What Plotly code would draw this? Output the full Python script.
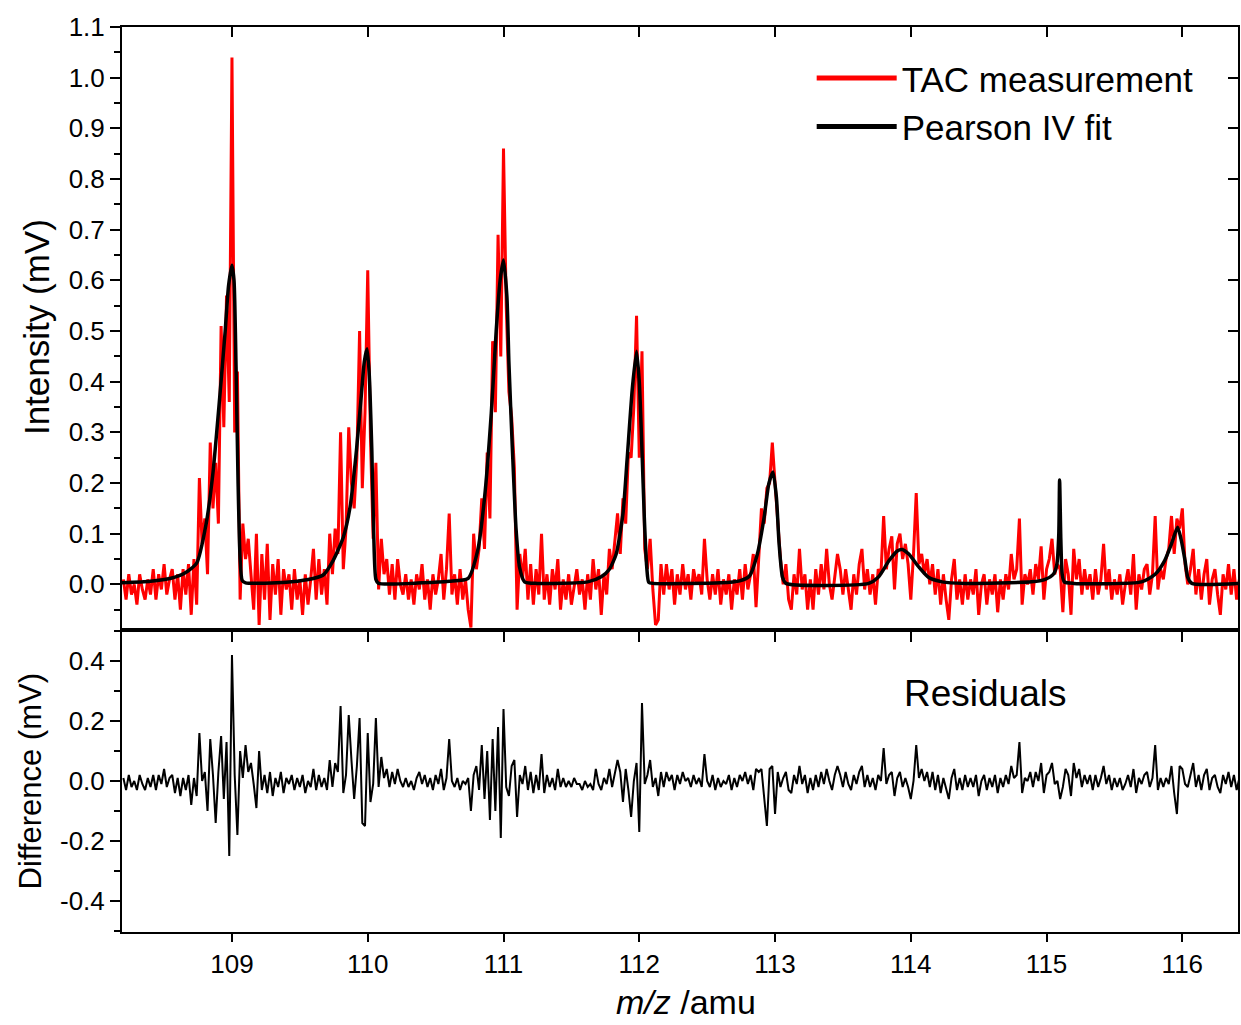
import numpy as np
import plotly.graph_objects as go

# ---------------- data ----------------
mz_start = 108.20
mz_step = 0.02

tac_108 = [0.01, -0.03, 0.02, -0.02, 0.00, -0.04, 0.02, -0.01, -0.03, 0.01,
           -0.02, 0.03, -0.03, 0.02, -0.01, 0.04, -0.02, 0.01, 0.03, -0.03,
           0.02, -0.05, 0.03, -0.02, 0.04, -0.06, 0.05, -0.04, 0.21, 0.08,
           0.13, 0.02, 0.28, 0.15, 0.24, 0.12, 0.51, 0.31, 0.57, 0.36]
tac_109 = [1.04, 0.30, 0.42, -0.03, 0.12, 0.05, 0.09, 0.02, -0.05, 0.10,
           -0.08, 0.06, -0.03, 0.08, -0.07, 0.04, -0.02, 0.05, -0.06, 0.03,
           -0.01, 0.02, -0.05, 0.03, -0.03, 0.01, -0.06, 0.02, -0.04, 0.01,
           0.07, -0.03, 0.05, -0.02, 0.03, -0.04, 0.10, 0.02, 0.11, 0.06,
           0.30, 0.03, 0.11, 0.31, 0.20, 0.15, 0.25, 0.50, 0.19, 0.34]
tac_110 = [0.62, 0.29, 0.09, 0.24, -0.01, 0.09, 0.02, 0.05, -0.02, 0.04,
           -0.03, 0.05, 0.00, -0.02, 0.02, -0.03, 0.01, -0.04, 0.02, -0.01,
           0.04, -0.03, 0.01, -0.05, 0.02, -0.02, 0.01, 0.06, -0.03, 0.03,
           0.14, -0.02, 0.02, -0.04, 0.03, -0.03, 0.01, -0.05, -0.085, 0.10,
           0.03, 0.07, 0.17, 0.07, 0.26, 0.13, 0.48, 0.34, 0.69, 0.45]
tac_111 = [0.86, 0.55, 0.38, 0.33, 0.23, -0.05, 0.06, 0.01, 0.07, -0.03,
           0.04, -0.04, 0.03, -0.02, 0.10, -0.03, 0.02, -0.04, 0.03, -0.01,
           0.05, -0.05, 0.01, -0.03, 0.02, -0.04, 0.00, 0.03, -0.02, 0.01,
           -0.05, 0.02, -0.03, 0.05, -0.01, 0.03, -0.06, 0.02, -0.02, 0.07,
           0.03, 0.08, 0.14, 0.06, 0.17, 0.12, 0.26, 0.25, 0.35, 0.53]
tac_112 = [0.25, 0.46, 0.07, 0.03, 0.09, -0.01, -0.08, -0.07, 0.04, -0.02,
           0.04, -0.01, 0.03, -0.04, 0.02, -0.02, 0.04, -0.01, 0.02, -0.03,
           0.03, 0.00, 0.02, -0.02, 0.09, 0.01, -0.03, 0.02, -0.02, 0.03,
           -0.04, 0.01, -0.02, 0.02, -0.05, 0.01, -0.02, 0.03, -0.03, 0.04,
           -0.01, 0.02, 0.06, -0.045, 0.05, 0.15, 0.12, 0.19, 0.20, 0.28]
tac_113 = [0.20, 0.12, 0.05, 0.00, 0.04, -0.03, -0.05, 0.02, -0.02, 0.07,
           -0.01, 0.02, -0.05, 0.01, -0.05, 0.03, -0.02, 0.04, -0.01, 0.07,
           0.00, -0.03, 0.02, 0.06, 0.03, -0.02, 0.03, -0.01, -0.05, 0.02,
           -0.02, 0.04, 0.07, -0.01, 0.03, -0.02, 0.02, -0.04, 0.03, 0.02,
           0.135, 0.03, 0.07, 0.095, -0.01, 0.08, 0.10, 0.05, 0.08, 0.04]
tac_114 = [-0.03, 0.06, 0.18, 0.04, 0.06, 0.02, 0.05, 0.00, 0.04, -0.02,
           0.03, -0.04, 0.02, -0.03, -0.07, 0.01, 0.05, -0.03, 0.01, -0.04,
           0.02, -0.03, 0.01, -0.02, 0.03, -0.06, 0.00, 0.02, -0.04, 0.01,
           -0.02, 0.02, -0.055, 0.01, -0.03, 0.02, -0.01, 0.06, 0.01, 0.03,
           0.13, -0.04, 0.02, 0.00, 0.03, -0.02, 0.04, 0.01, 0.075, -0.03]
tac_115 = [0.03, 0.05, 0.09, 0.02, 0.04, 0.03, -0.055, 0.05, 0.02, -0.06,
           0.07, 0.01, 0.05, -0.02, 0.03, -0.01, 0.02, -0.03, 0.03, -0.02,
           0.01, 0.08, -0.01, 0.03, -0.03, 0.01, -0.02, 0.02, -0.04, 0.00,
           0.03, -0.02, 0.06, -0.05, 0.02, -0.01, 0.03, 0.04, -0.02, 0.02,
           0.135, -0.01, 0.03, 0.01, 0.05, 0.07, 0.135, 0.06, 0.13, 0.11]
tac_116 = [0.15, 0.04, 0.00, 0.03, 0.07, -0.02, 0.03, -0.03, 0.02, 0.05,
           -0.04, 0.01, 0.03, -0.02, -0.06, 0.02, -0.01, 0.04, -0.02, 0.03,
           -0.03, 0.01]

res_108 = [0.01, -0.03, 0.02, -0.02, 0.00, -0.03, 0.02, -0.01, -0.03, 0.01,
           -0.02, 0.02, -0.03, 0.02, -0.01, 0.04, -0.02, 0.01, 0.02, -0.04,
           0.01, -0.05, 0.01, -0.03, 0.02, -0.08, 0.01, -0.05, 0.16, 0.00,
           0.03, -0.10, 0.14, 0.02, -0.14, 0.03, 0.15, -0.06, 0.13, -0.25]
res_109 = [0.42, 0.02, -0.18, 0.10, 0.01, 0.12, 0.03, 0.06, -0.01, -0.09,
           0.10, -0.03, 0.02, -0.04, 0.03, -0.05, 0.01, -0.02, 0.03, -0.04,
           0.01, -0.01, 0.02, -0.03, 0.01, -0.02, 0.02, -0.04, 0.00, -0.02,
           0.04, -0.03, 0.02, -0.02, 0.01, -0.03, 0.07, -0.02, 0.06, 0.03,
           0.25, -0.04, 0.02, 0.22, 0.07, -0.06, 0.05, 0.21, -0.14, -0.15]
res_110 = [0.16, -0.07, -0.01, 0.21, -0.02, 0.08, 0.01, 0.04, -0.02, 0.03,
           -0.01, 0.04, 0.00, -0.02, 0.01, -0.02, 0.00, -0.03, 0.01, 0.03,
           -0.01, 0.02, -0.02, 0.01, -0.03, 0.02, -0.01, 0.04, -0.03, 0.01,
           0.14, 0.00, -0.02, 0.01, -0.03, 0.00, -0.01, 0.01, -0.10, 0.02,
           0.05, -0.03, 0.12, -0.06, 0.10, -0.13, 0.14, -0.10, 0.18, -0.19]
res_111 = [0.24, -0.02, -0.05, 0.05, 0.07, -0.12, 0.02, -0.01, 0.05, -0.03,
           0.03, -0.04, 0.02, -0.03, 0.09, -0.04, 0.02, -0.02, 0.01, -0.03,
           0.04, -0.02, 0.01, -0.02, 0.00, -0.02, 0.01, -0.01, -0.01, -0.03,
           0.00, -0.02, -0.01, -0.03, 0.04, -0.01, -0.03, 0.01, -0.01, 0.04,
           -0.02, 0.02, 0.07, 0.03, -0.07, 0.04, -0.03, -0.12, 0.00, 0.06]
res_112 = [-0.17, 0.26, -0.01, 0.02, 0.07, -0.02, 0.01, -0.05, 0.03, -0.02,
           0.03, 0.00, 0.02, -0.03, 0.02, -0.01, 0.03, 0.00, 0.01, -0.02,
           0.02, -0.01, 0.01, -0.02, 0.09, 0.00, -0.02, 0.02, -0.03, 0.01,
           -0.02, 0.00, -0.01, 0.02, -0.03, 0.01, -0.02, 0.02, 0.00, 0.03,
           -0.01, 0.02, -0.03, 0.04, 0.03, 0.04, -0.06, -0.15, 0.04, 0.05]
res_113 = [-0.11, 0.03, -0.02, 0.01, 0.03, -0.03, -0.04, 0.02, -0.01, 0.05,
           -0.01, 0.02, -0.04, 0.01, -0.03, 0.02, -0.02, 0.03, -0.01, 0.04,
           0.00, -0.03, 0.02, 0.05, 0.02, -0.02, 0.03, -0.01, -0.03, 0.02,
           -0.01, 0.03, 0.05, -0.02, 0.02, -0.02, 0.01, -0.03, 0.02, 0.00,
           0.11, -0.01, 0.02, 0.03, -0.05, 0.01, 0.03, -0.02, 0.01, -0.02]
res_114 = [-0.06, 0.00, 0.12, 0.01, 0.04, 0.00, 0.03, -0.02, 0.03, -0.03,
           0.02, -0.04, 0.01, -0.03, -0.06, 0.01, 0.04, -0.03, 0.01, -0.03,
           0.02, -0.02, 0.01, -0.02, 0.02, -0.05, 0.00, 0.02, -0.03, 0.01,
           -0.02, 0.02, -0.04, 0.01, -0.02, 0.02, -0.01, 0.05, 0.01, 0.02,
           0.13, -0.04, 0.01, 0.00, 0.03, -0.02, 0.03, 0.00, 0.06, -0.04]
res_115 = [0.02, 0.03, 0.06, -0.01, 0.00, -0.06, -0.02, 0.04, 0.02, -0.05,
           0.06, 0.01, 0.04, -0.02, 0.02, -0.01, 0.02, -0.03, 0.02, -0.02,
           0.01, 0.05, -0.01, 0.02, -0.03, 0.01, -0.02, 0.01, -0.03, -0.01,
           0.02, -0.02, 0.04, -0.04, 0.01, -0.01, 0.02, 0.03, -0.02, 0.01,
           0.12, -0.03, 0.01, -0.02, 0.01, -0.01, 0.05, -0.04, -0.11, 0.05]
res_116 = [0.04, -0.01, -0.02, 0.02, 0.06, -0.02, 0.02, -0.03, 0.02, 0.04,
           -0.03, 0.01, 0.02, -0.02, -0.04, 0.02, -0.01, 0.03, -0.02, 0.02,
           -0.03, 0.01]

fit_mz = [108.19, 108.40, 108.55, 108.65, 108.74, 108.81, 108.86, 108.91, 108.95, 108.975,
          109.00, 109.015, 109.03, 109.045, 109.06, 109.075, 109.10,
          109.40, 109.55, 109.67, 109.745, 109.82, 109.87, 109.917, 109.954, 109.975,
          109.995, 110.01, 110.03, 110.044, 110.06, 110.08,
          110.40, 110.60, 110.74, 110.81, 110.86, 110.91, 110.946, 110.975, 111.00,
          111.025, 111.04, 111.065, 111.093, 111.118, 111.155, 111.25,
          111.62, 111.72, 111.78, 111.83, 111.88, 111.91, 111.95, 111.98, 112.00,
          112.02, 112.037, 112.055, 112.07, 112.10,
          112.60, 112.74, 112.81, 112.87, 112.92, 112.955, 112.985, 113.01, 113.03,
          113.055, 113.08,
          113.69, 113.76, 113.84, 113.90, 113.935, 113.985, 114.06, 114.13, 114.23, 114.40,
          114.89, 114.99, 115.05, 115.076, 115.09, 115.096, 115.105, 115.115, 115.13, 115.20,
          115.70, 115.80, 115.87, 115.92, 115.965, 115.99, 116.02, 116.04, 116.07, 116.42]
fit_int = [0.003, 0.006, 0.012, 0.022, 0.042, 0.12, 0.22, 0.37, 0.50, 0.59,
           0.63, 0.60, 0.43, 0.20, 0.05, 0.008, 0.003,
           0.004, 0.009, 0.018, 0.047, 0.093, 0.153, 0.265, 0.377, 0.44,
           0.465, 0.42, 0.265, 0.10, 0.01, 0.002,
           0.003, 0.006, 0.012, 0.067, 0.17, 0.338, 0.50, 0.60, 0.64,
           0.568, 0.437, 0.27, 0.107, 0.034, 0.005, 0.002,
           0.005, 0.015, 0.03, 0.06, 0.14, 0.245, 0.39, 0.46, 0.40,
           0.265, 0.133, 0.034, 0.004, 0.002,
           0.003, 0.007, 0.016, 0.06, 0.133, 0.20, 0.222, 0.172, 0.08,
           0.014, 0.002,
           0.002, 0.014, 0.047, 0.066, 0.069, 0.06, 0.034, 0.014, 0.005, 0.002,
           0.005, 0.01, 0.02, 0.04, 0.10, 0.206, 0.09, 0.02, 0.005, 0.002,
           0.005, 0.02, 0.047, 0.08, 0.113, 0.09, 0.047, 0.014, 0.002, 0.002]

top_tickvals = [0.0, 0.1, 0.2, 0.3, 0.4, 0.5, 0.6, 0.7, 0.8, 0.9, 1.0, 1.1]
top_ticktext = ["0.0", "0.1", "0.2", "0.3", "0.4", "0.5", "0.6", "0.7", "0.8", "0.9", "1.0", "1.1"]
res_tickvals = [-0.4, -0.2, 0.0, 0.2, 0.4]
res_ticktext = ["-0.4", "-0.2", "0.0", "0.2", "0.4"]
mz_tickvals = [109, 110, 111, 112, 113, 114, 115, 116]
mz_ticktext = ["109", "110", "111", "112", "113", "114", "115", "116"]

tac = tac_108 + tac_109 + tac_110 + tac_111 + tac_112 + tac_113 + tac_114 + tac_115 + tac_116
res = res_108 + res_109 + res_110 + res_111 + res_112 + res_113 + res_114 + res_115 + res_116
mz = np.round(mz_start + mz_step * np.arange(len(tac)), 2)

# ---------------- figure ----------------
FONT = "Liberation Sans, Arial, sans-serif"
XR = [108.19, 116.41]
YR = [-0.09, 1.1]
YR2 = [-0.503, 0.503]
split = 302 / 905

fig = go.Figure()
fig.add_trace(go.Scatter(x=mz, y=tac, mode="lines", name="TAC measurement", showlegend=False,
                         line=dict(color="#FF0000", width=3), xaxis="x", yaxis="y"))
fig.add_trace(go.Scatter(x=fit_mz, y=fit_int, mode="lines", name="Pearson IV fit", showlegend=False,
                         line=dict(color="black", width=3.5, shape="spline", smoothing=0.6),
                         xaxis="x", yaxis="y"))
fig.add_trace(go.Scatter(x=mz, y=res, mode="lines", showlegend=False,
                         line=dict(color="black", width=2), xaxis="x2", yaxis="y2"))
# legend entries (thicker sample lines, as in the original legend)
fig.add_trace(go.Scatter(x=[None], y=[None], mode="lines", name="TAC measurement",
                         line=dict(color="#FF0000", width=5), xaxis="x", yaxis="y"))
fig.add_trace(go.Scatter(x=[None], y=[None], mode="lines", name="Pearson IV fit",
                         line=dict(color="black", width=5), xaxis="x", yaxis="y"))
# carrier for inside ticks on top / right of the upper panel
fig.add_trace(go.Scatter(x=[None], y=[None], showlegend=False, hoverinfo="skip",
                         xaxis="x3", yaxis="y3"))

axcommon = dict(showline=True, linecolor="black", linewidth=2, showgrid=False,
                zeroline=False, tickcolor="black", tickwidth=2,
                tickfont=dict(family=FONT, size=26, color="black"))

fig.update_layout(
    width=1241, height=1025,
    margin=dict(l=122, r=1, t=27, b=93),
    paper_bgcolor="white", plot_bgcolor="white",
    font=dict(family=FONT, color="black"),
    xaxis=dict(domain=[0, 1], anchor="y", range=XR, tickvals=mz_tickvals,
               showticklabels=False, ticks="outside", ticklen=10, **axcommon),
    yaxis=dict(domain=[split, 1], anchor="x", range=YR, tickvals=top_tickvals,
               ticktext=top_ticktext, ticks="outside", ticklen=10,
               minor=dict(dtick=0.05, tick0=0, ticks="outside", ticklen=6,
                          tickwidth=2, tickcolor="black"), **axcommon),
    xaxis2=dict(domain=[0, 1], anchor="y2", range=XR, tickvals=mz_tickvals,
                ticktext=mz_ticktext, ticks="outside", ticklen=8, mirror=True,
                **axcommon),
    yaxis2=dict(domain=[0, split], anchor="x2", range=YR2, tickvals=res_tickvals,
                ticktext=res_ticktext, ticks="outside", ticklen=10, mirror=True,
                minor=dict(dtick=0.1, tick0=0, ticks="outside", ticklen=6,
                           tickwidth=2, tickcolor="black"), **axcommon),
    xaxis3=dict(overlaying="x", side="top", anchor="y3", range=XR, tickvals=mz_tickvals,
                showticklabels=False, ticks="inside", ticklen=10, **axcommon),
    yaxis3=dict(overlaying="y", side="right", anchor="x3", range=YR, tickvals=top_tickvals,
                showticklabels=False, ticks="inside", ticklen=10, **axcommon),
    legend=dict(x=0.618, y=0.976, xanchor="left", yanchor="top",
                bgcolor="rgba(0,0,0,0)", itemwidth=80, tracegroupgap=0,
                font=dict(family=FONT, size=35, color="black")),
    showlegend=True,
)

fig.add_annotation(text="Intensity (mV)", xref="paper", yref="paper",
                   x=-0.077, y=(932 - 327) / 905, textangle=-90, showarrow=False,
                   xanchor="center", yanchor="middle",
                   font=dict(family=FONT, size=35, color="black"))
fig.add_annotation(text="Difference (mV)", xref="paper", yref="paper",
                   x=-0.082, y=(932 - 781) / 905, textangle=-90, showarrow=False,
                   xanchor="center", yanchor="middle",
                   font=dict(family=FONT, size=31, color="black"))
fig.add_annotation(text="<i>m/z</i> /amu", xref="paper", yref="paper",
                   x=0.505, y=(932 - 1002) / 905, showarrow=False,
                   xanchor="center", yanchor="middle",
                   font=dict(family=FONT, size=34, color="black"))
fig.add_annotation(text="Residuals", xref="paper", yref="paper",
                   x=(987 - 122) / 1118, y=(932 - 693) / 905, showarrow=False,
                   xanchor="center", yanchor="middle",
                   font=dict(family=FONT, size=37, color="black"))

fig.write_html("out.html")
